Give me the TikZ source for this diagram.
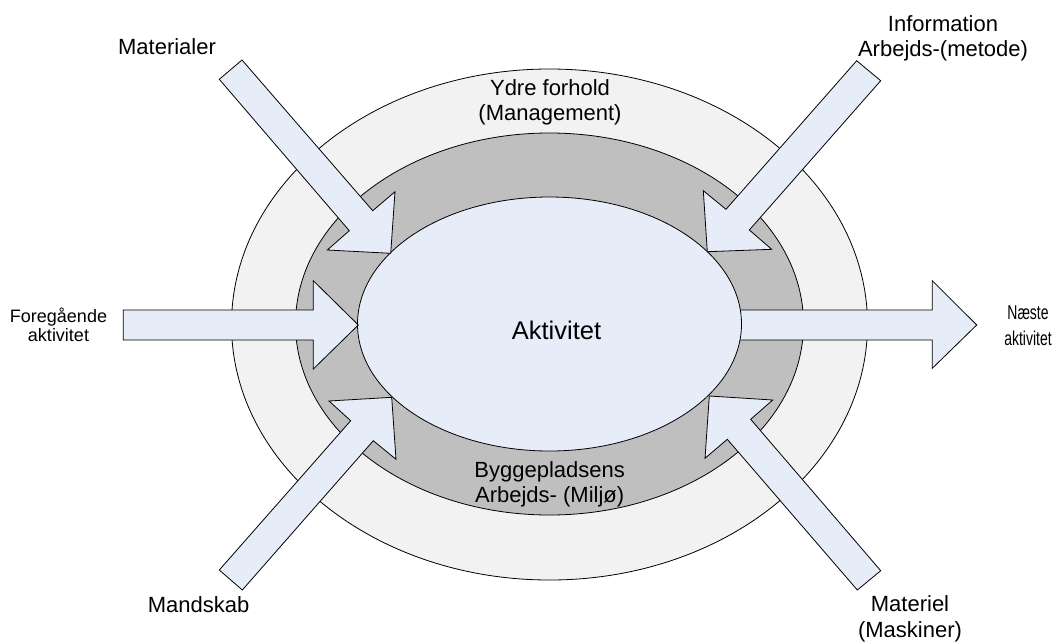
\documentclass[tikz,border=0pt]{standalone}
\usepackage{fontspec}
\setmainfont{Liberation Sans}
\usetikzlibrary{shapes.geometric}

\definecolor{ringlight}{HTML}{F2F2F2}
\definecolor{ringdark}{HTML}{BFBFBF}
\definecolor{coreblue}{HTML}{E6ECF8}

\tikzset{
  ring/.style={ellipse, draw=black, line width=0.8pt, inner sep=0pt, outer sep=0pt},
  blockarrow/.style={draw=black, fill=coreblue, line width=0.8pt, line join=miter},
  lbl/.style={font=\fontsize{22}{25.5}\selectfont, align=center, inner sep=0pt},
  smalllbl/.style={font=\fontsize{18}{19}\selectfont, align=center, inner sep=0pt}
}

\begin{document}
\begin{tikzpicture}[x=1pt, y=-1pt]
  \useasboundingbox (0,0) rectangle (1059,641);

  % concentric rings: outer conditions, site environment, activity core
  \node[ring, fill=ringlight, minimum width=636pt, minimum height=511pt] (outer) at (549.5,324.5) {};
  \node[ring, fill=ringdark, minimum width=508pt, minimum height=382pt] (middle) at (549.5,324) {};

  % outgoing arrow starts under the core ellipse
  \draw[blockarrow] (700,310) -- (932.3,310) -- (932.3,280.7) -- (976.7,325)
        -- (932.3,368.3) -- (932.3,340) -- (700,340) -- cycle;

  \node[ring, fill=coreblue, minimum width=384pt, minimum height=254pt] (core) at (549.5,324) {};

  % incoming arrows
  % Materialer
  \draw[blockarrow] (219.3,79.3) -- (242,60) -- (372.7,210.7) -- (395,191.7)
        -- (390.7,253.3) -- (327.3,250) -- (349.3,230.7) -- cycle;
  % Information
  \draw[blockarrow] (856.7,60.7) -- (880.7,80.7) -- (749.3,230) -- (771.7,249.3)
        -- (707.3,251.7) -- (703.3,190.7) -- (726,209.3) -- cycle;
  % Foregaaende aktivitet
  \draw[blockarrow] (123.3,310) -- (313.3,310) -- (313.3,280.7) -- (358.3,325)
        -- (313.3,369) -- (313.3,340) -- (123.3,340) -- cycle;
  % Mandskab
  \draw[blockarrow] (219.3,570) -- (350.7,420.7) -- (329,401) -- (391.7,397.3)
        -- (396,459.3) -- (373.3,440.7) -- (242.3,590) -- cycle;
  % Materiel
  \draw[blockarrow] (857.3,590) -- (727.3,439.3) -- (705,458.3) -- (709.3,396)
        -- (772.7,400) -- (750.7,419.3) -- (880.7,570.7) -- cycle;

  % texts
  \node[font=\fontsize{25.5}{28}\selectfont, inner sep=0pt, anchor=base] (aktivitet) at (556.5,339) {Aktivitet};
  \node[lbl] (ydre) at (550,102.4) {Ydre forhold\\(Management)};
  \node[lbl] (bygge) at (549.7,484.4) {Byggepladsens\\Arbejds- (Miljø)};
  \node[lbl, anchor=base] (materialer) at (167,54.3) {Materialer};
  \node[lbl, anchor=base] (mandskab) at (198.5,612.7) {Mandskab};
  \node[lbl] (materiel) at (910,618.6) {Materiel\\(Maskiner)};
  \node[lbl] (information) at (943,38.4) {Information\\Arbejds-(metode)};
  \node[smalllbl] (foregaaende) at (58.5,324.5) {Foregående\\aktivitet};
  \node[inner sep=0pt] (naeste) at (1028,327.5)
    {\scalebox{0.7}[1]{\fontsize{20}{26}\selectfont\begin{tabular}{@{}c@{}}Næste\\aktivitet\end{tabular}}};
\end{tikzpicture}
\end{document}
